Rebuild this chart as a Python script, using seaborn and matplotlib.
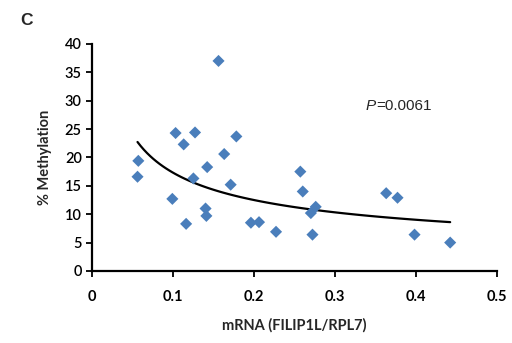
import matplotlib
matplotlib.use('Agg')
import matplotlib.pyplot as plt
import seaborn as sns
import numpy as np
import pandas as pd

# mRNA (FILIP1L/RPL7) vs % methylation
mrna = [0.156, 0.057, 0.056, 0.103, 0.127, 0.113, 0.178, 0.163, 0.142, 0.125,
        0.171, 0.099, 0.140, 0.141, 0.116, 0.196, 0.206, 0.227, 0.257, 0.260,
        0.276, 0.270, 0.272, 0.363, 0.377, 0.398, 0.442]
methylation = [37.0, 19.4, 16.6, 24.3, 24.4, 22.3, 23.7, 20.6, 18.3, 16.3,
               15.2, 12.7, 11.0, 9.7, 8.3, 8.5, 8.6, 6.9, 17.5, 14.0,
               11.3, 10.2, 6.4, 13.7, 12.9, 6.4, 5.0]
x_ticks = [0, 0.1, 0.2, 0.3, 0.4, 0.5]
y_ticks = [0, 5, 10, 15, 20, 25, 30, 35, 40]
p_label = 'P'
p_value = '=0.0061'

df = pd.DataFrame({'mrna': mrna, 'meth': methylation})

# power trendline (Excel style): y = a * x^b
b, log_a = np.polyfit(np.log(df['mrna']), np.log(df['meth']), 1)
fit_x = np.linspace(df['mrna'].min(), df['mrna'].max(), 100)
fit = pd.DataFrame({'x': fit_x, 'y': np.exp(log_a) * fit_x ** b})

sns.set_style('ticks')
plt.rcParams['font.family'] = ['Lato', 'DejaVu Sans']

fig = plt.figure(figsize=(5.12, 3.43), dpi=100)
ax = fig.add_axes([0.18, 0.21, 0.791, 0.662])

sns.scatterplot(data=df, x='mrna', y='meth', marker='D', s=38, color='#4a7ebb',
                edgecolor='none', ax=ax, zorder=3)
sns.lineplot(data=fit, x='x', y='y', color='black', linewidth=1.6, ax=ax, zorder=2)

ax.set_xlim(0, 0.5)
ax.set_ylim(0, 40)
ax.set_xticks(x_ticks)
ax.set_xticklabels([f'{t:g}' for t in x_ticks], fontweight='bold')
ax.set_yticks(y_ticks)
ax.set_yticklabels([str(t) for t in y_ticks], fontweight='semibold')
ax.tick_params(axis='both', labelsize=10.5, direction='out', length=4, width=1.3, colors='black')
ax.tick_params(axis='x', pad=10)
ax.set_xlabel('mRNA (FILIP1L/RPL7)', fontsize=10.5, fontweight='bold', labelpad=10)
ax.set_ylabel('% Methylation', fontsize=10.5, fontweight='bold', labelpad=9)
for s in ['left', 'bottom']:
    ax.spines[s].set_linewidth(1.6)
    ax.spines[s].set_color('black')
sns.despine(ax=ax)

ax.text(0.338, 29.1, p_label, fontstyle='italic', fontsize=11, va='center', family='Liberation Sans')
ax.text(0.351, 29.1, p_value, fontsize=11, va='center', family='Liberation Sans')
fig.text(0.04, 0.94, 'C', fontsize=12.5, fontweight='bold', va='center', family='Liberation Sans')

fig.savefig('out.png', dpi=100)
